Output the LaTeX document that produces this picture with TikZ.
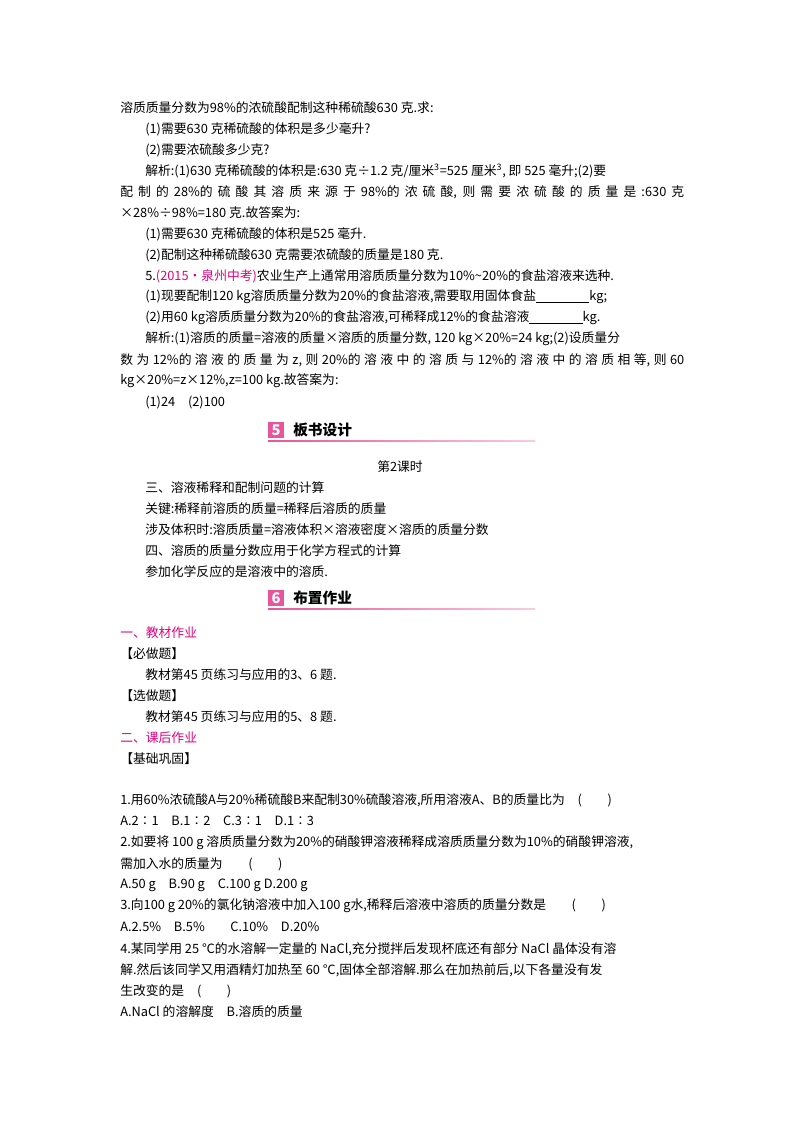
\documentclass[tikz,border=0pt]{standalone}
\usepackage{fontspec}
\setmainfont{Noto Sans CJK SC}
\definecolor{mag}{HTML}{E4007F}
\definecolor{pk}{HTML}{E8559A}
\newcommand\T[4]{\node[tx] (#1) at (#2*0.75pt,-#3*0.75pt) {#4};}
\newcommand\blank[1]{\rule[-1.5pt]{#1}{0.4pt}}
\tikzset{tx/.style={anchor=west,inner sep=0pt,font=\fontsize{9.6}{11}\selectfont},
 icon/.style={fill=pk,minimum width=12pt,minimum height=12pt,inner sep=0pt,text=white,font=\bfseries\itshape\fontsize{11}{11}\selectfont},
 head/.style={anchor=west,inner sep=0pt,font=\bfseries\fontsize{11}{11}\selectfont}}
\begin{document}
\begin{tikzpicture}
\useasboundingbox[fill=white] (0,0) rectangle (600pt,-849pt);
\T{a1}{120}{108}{溶质质量分数为98\%的浓硫酸配制这种稀硫酸630 克.求:}
\T{a2}{145}{129}{(1)需要630 克稀硫酸的体积是多少毫升?}
\T{a3}{145}{150}{(2)需要浓硫酸多少克?}
\T{a4}{145}{171}{解析:(1)630 克稀硫酸的体积是:630 克÷1.2 克/厘米\textsuperscript{3}=525 厘米\textsuperscript{3}, 即 525 毫升;(2)要}
\T{a5}{120}{192}{\makebox[423pt][s]{配 制 的 28\%的 硫 酸 其 溶 质 来 源 于 98\%的 浓 硫 酸, 则 需 要 浓 硫 酸 的 质 量 是 :630 克}}
\T{a6}{120}{213}{×28\%÷98\%=180 克.故答案为:}
\T{a7}{145}{234}{(1)需要630 克稀硫酸的体积是525 毫升.}
\T{a8}{145}{255}{(2)配制这种稀硫酸630 克需要浓硫酸的质量是180 克.}
\T{a9}{145}{276}{5.{\color{mag}(2015·泉州中考)}农业生产上通常用溶质质量分数为10\%\textasciitilde20\%的食盐溶液来选种.}
\T{a10}{145}{297}{(1)现要配制120 kg溶质质量分数为20\%的食盐溶液,需要取用固体食盐\blank{40pt}kg;}
\T{a11}{145}{318}{(2)用60 kg溶质质量分数为20\%的食盐溶液,可稀释成12\%的食盐溶液\blank{40pt}kg.}
\T{a12}{145}{339}{解析:(1)溶质的质量=溶液的质量×溶质的质量分数, 120 kg×20\%=24 kg;(2)设质量分}
\T{a13}{120}{360}{\makebox[423pt][s]{数 为 12\%的 溶 液 的 质 量 为 \textit{z}, 则 20\%的 溶 液 中 的 溶 质 与 12\%的 溶 液 中 的 溶 质 相 等, 则 60}}
\T{a14}{120}{381}{kg×20\%=\textit{z}×12\%,\textit{z}=100 kg.故答案为:}
\T{a15}{145}{403}{(1)24\quad(2)100}
% header 5
\node[icon] (i5) at (276*0.75pt,-430*0.75pt) {5};
\node[head] (h5) at (293*0.75pt,-430*0.75pt) {板书设计};
\coordinate (l5a) at (268*0.75pt,-440*0.75pt);
\coordinate (l5b) at (535*0.75pt,-440*0.75pt);
\shade[left color=pk,right color=pk!30] (l5a) rectangle ([yshift=-0.8pt]l5b);
\node[tx,anchor=center] (b0) at (400*0.75pt,-467*0.75pt) {第2课时};
\T{b1}{145}{488}{三、溶液稀释和配制问题的计算}
\T{b2}{145}{509}{关键:稀释前溶质的质量=稀释后溶质的质量}
\T{b3}{145}{530}{涉及体积时:溶质质量=溶液体积×溶液密度×溶质的质量分数}
\T{b4}{145}{551}{四、溶质的质量分数应用于化学方程式的计算}
\T{b5}{145}{572}{参加化学反应的是溶液中的溶质.}
% header 6
\node[icon] (i6) at (276*0.75pt,-598*0.75pt) {6};
\node[head] (h6) at (293*0.75pt,-598*0.75pt) {布置作业};
\coordinate (l6a) at (268*0.75pt,-608*0.75pt);
\coordinate (l6b) at (535*0.75pt,-608*0.75pt);
\shade[left color=pk,right color=pk!30] (l6a) rectangle ([yshift=-0.8pt]l6b);
\T{c1}{120}{633}{\color{mag}一、教材作业}
\T{c2}{120}{654}{【必做题】}
\T{c3}{145}{675}{教材第45 页练习与应用的3、6 题.}
\T{c4}{120}{696}{【选做题】}
\T{c5}{145}{717}{教材第45 页练习与应用的5、8 题.}
\T{c6}{120}{738}{\color{mag}二、课后作业}
\T{c7}{120}{759}{【基础巩固】}
\T{d1}{120}{800}{1.用60\%浓硫酸A与20\%稀硫酸B来配制30\%硫酸溶液,所用溶液A、B的质量比为\quad(\qquad)}
\T{d2}{120}{821}{A.2∶1\quad B.1∶2\quad C.3∶1\quad D.1∶3}
\T{d3}{120}{843}{2.如要将 100 g 溶质质量分数为20\%的硝酸钾溶液稀释成溶质质量分数为10\%的硝酸钾溶液,}
\T{d4}{120}{864}{需加入水的质量为\qquad(\qquad)}
\T{d5}{120}{885}{A.50 g\quad B.90 g\quad C.100 g\ D.200 g}
\T{d6}{120}{906}{3.向100 g 20\%的氯化钠溶液中加入100 g水,稀释后溶液中溶质的质量分数是\qquad(\qquad)}
\T{d7}{120}{927}{A.2.5\%\quad B.5\%\qquad C.10\%\quad D.20\%}
\T{d8}{120}{949}{4.某同学用 25 ℃的水溶解一定量的 NaCl,充分搅拌后发现杯底还有部分 NaCl 晶体没有溶}
\T{d9}{120}{970}{解.然后该同学又用酒精灯加热至 60 ℃,固体全部溶解.那么在加热前后,以下各量没有发}
\T{d10}{120}{991}{生改变的是\quad(\qquad)}
\T{d11}{120}{1012}{A.NaCl 的溶解度\quad B.溶质的质量}
\end{tikzpicture}
\end{document}
